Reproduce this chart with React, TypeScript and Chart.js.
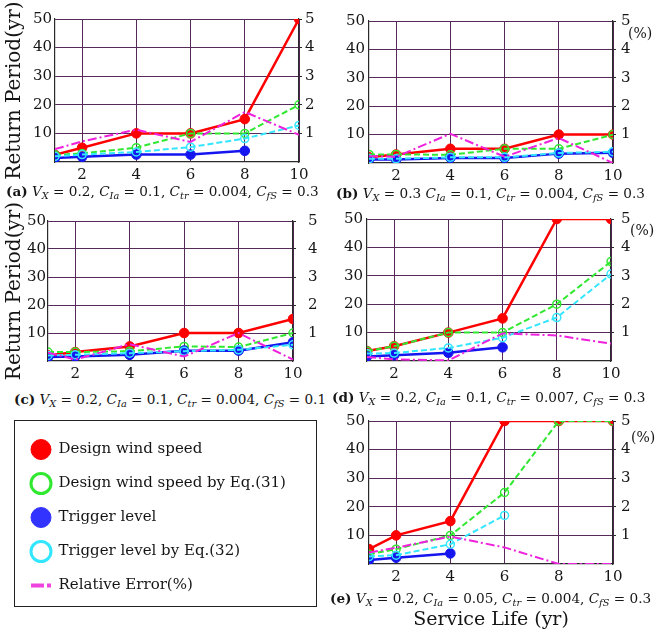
import React, { useEffect, useRef } from 'react';
import { Chart, registerables } from 'chart.js';

Chart.register(...registerables);

const SERIF = '"DejaVu Serif", serif';

// ---------- data ----------
const serviceLife = [1, 2, 4, 6, 8, 10];
const xTickValues = [2, 4, 6, 8, 10];
const periodTickValues = [10, 20, 30, 40, 50];
const errorTickValues = [1, 2, 3, 4, 5];

const seriesLabels = [
  'Design wind speed',
  'Design wind speed by Eq.(31)',
  'Trigger level',
  'Trigger level by Eq.(32)',
  'Relative Error(%)',
];

// (a)
const aDesign = [2.5, 5, 10, 10, 15, 50];
const aDesignEq = [2.5, 3, 5, 10, 10, 20];
const aTrigger = [1.4, 1.8, 2.6, 2.6, 3.9, null];
const aTriggerEq = [2, 2.6, 3.5, 5.2, 8.2, 12.8];
const aError = [0.45, 0.72, 1.13, 0.7, 1.75, 0.95];

// (b)
const bDesign = [2, 3, 5, 5, 10, 10];
const bDesignEq = [3, 3, 2.9, 5, 5, 10];
const bTrigger = [1.2, 1.2, 1.8, 1.8, 3.3, 3.6];
const bTriggerEq = [1.5, 1.5, 2, 2, 3.5, 4];
const bError = [0.24, 0.22, 1.03, 0.22, 0.88, 0];

// (c)
const cDesign = [2, 3.2, 5.2, 10, 10, 15];
const cDesignEq = [3.2, 3.2, 3.5, 5.2, 5, 10];
const cTrigger = [1.4, 1.6, 2.2, 3.7, 3.7, 6.7];
const cTriggerEq = [2, 2.2, 2.8, 3.5, 4, 5.8];
const cError = [0.3, 0.05, 0.6, 0.16, 1.0, 0.05];

// (d)
const dDesign = [3.5, 5.2, 10, 15, 50, 50];
const dDesignEq = [3.5, 5.2, 10, 10, 20, 35];
const dTrigger = [1.6, 2, 2.9, 4.8, null, null];
const dTriggerEq = [2.6, 2.8, 4.6, 8.2, 15.3, 30.6];
const dError = [0.14, 0.06, 0.02, 0.97, 0.9, 0.61];

// (e)
const eDesign = [5.2, 10, 15, 50, 50, 50];
const eDesignEq = [3.4, 5.2, 10, 25, 50, 50];
const eTrigger = [1.4, 2.2, 3.7, null, null, null];
const eTriggerEq = [2.6, 3.1, 6.9, 17, null, null];
const eError = [0.4, 0.57, 0.96, 0.58, 0, 0];

const captionLetters = ['(a)', '(b)', '(c)', '(d)', '(e)'];
const captionVx = ['0.2', '0.3', '0.2', '0.2', '0.2'];
const captionCia = ['0.1', '0.1', '0.1', '0.1', '0.05'];
const captionCtr = ['0.004', '0.004', '0.004', '0.007', '0.004'];
const captionCfs = ['0.3', '0.3', '0.1', '0.3', '0.3'];
const captionComma = [true, false, true, true, true];

// ---------- styles ----------
const RED = '#ff0000';
const GREEN = '#2fe82f';
const BLUE = '#1515f0';
const CYAN = '#33e6ff';
const MAGENTA = '#ee22dd';
const GRID = '#55295a';
const BORDER = '#2a2a2a';
const TEXT = '#151515';

type Layout = {
  cx: number; cy: number; cw: number; ch: number;
  plotBottom: number;
  leftW: number; rightW: number; padTop: number;
  leftPad: number; rightPad: number; yTitle: boolean;
};

const layouts: Layout[] = [
  { cx: 0, cy: 0, cw: 330, ch: 186, plotBottom: 162, leftW: 55, rightW: 31, padTop: 19, leftPad: 3, rightPad: 3, yTitle: true },
  { cx: 330, cy: 0, cw: 330, ch: 186, plotBottom: 163, leftW: 39, rightW: 47, padTop: 21, leftPad: 4, rightPad: 5, yTitle: false },
  { cx: 0, cy: 200, cw: 330, ch: 186, plotBottom: 361, leftW: 48, rightW: 37, padTop: 18, leftPad: 2, rightPad: 12, yTitle: true },
  { cx: 330, cy: 200, cw: 330, ch: 186, plotBottom: 361, leftW: 37, rightW: 49, padTop: 19, leftPad: 4, rightPad: 7, yTitle: false },
  { cx: 330, cy: 405, cw: 330, ch: 185, plotBottom: 564, leftW: 39, rightW: 47, padTop: 16, leftPad: 4, rightPad: 5, yTitle: false },
];

const captionPos = [
  { left: 6, top: 182 },
  { left: 336, top: 184 },
  { left: 14, top: 390 },
  { left: 332, top: 388 },
  { left: 330, top: 589 },
];

const percentPos = [null, { left: 628, top: 25 }, null, { left: 630, top: 222 }, { left: 631, top: 429 }];

const panelSeries = [
  [aDesign, aDesignEq, aTrigger, aTriggerEq, aError],
  [bDesign, bDesignEq, bTrigger, bTriggerEq, bError],
  [cDesign, cDesignEq, cTrigger, cTriggerEq, cError],
  [dDesign, dDesignEq, dTrigger, dTriggerEq, dError],
  [eDesign, eDesignEq, eTrigger, eTriggerEq, eError],
];

function buildConfig(series: (number | null)[][], L: Layout): any {
  const [design, designEq, trigger, triggerEq, error] = series;
  const pts = (vals: (number | null)[]) => serviceLife.map((x, i) => ({ x, y: vals[i] }));
  const tickFont = { family: SERIF, size: 15 };
  const xAxisHeight = L.cy + L.ch - L.plotBottom;
  return {
    type: 'line',
    data: {
      datasets: [
        {
          label: seriesLabels[0], data: pts(design), yAxisID: 'y', order: 5,
          borderColor: RED, backgroundColor: RED, pointBackgroundColor: RED, pointBorderColor: RED,
          borderWidth: 2.5, pointRadius: 4.8, pointBorderWidth: 1,
        },
        {
          label: seriesLabels[1], data: pts(designEq), yAxisID: 'y', order: 4,
          borderColor: GREEN, backgroundColor: 'rgba(0,0,0,0)', pointBackgroundColor: 'rgba(0,0,0,0)', pointBorderColor: GREEN,
          borderDash: [6, 3], borderWidth: 2, pointRadius: 4, pointBorderWidth: 1.5,
        },
        {
          label: seriesLabels[2], data: pts(trigger), yAxisID: 'y', order: 3,
          borderColor: BLUE, backgroundColor: BLUE, pointBackgroundColor: BLUE, pointBorderColor: BLUE,
          borderWidth: 2.5, pointRadius: 4.8, pointBorderWidth: 1,
        },
        {
          label: seriesLabels[3], data: pts(triggerEq), yAxisID: 'y', order: 2,
          borderColor: CYAN, backgroundColor: 'rgba(0,0,0,0)', pointBackgroundColor: 'rgba(0,0,0,0)', pointBorderColor: CYAN,
          borderDash: [6, 3], borderWidth: 2, pointRadius: 4, pointBorderWidth: 1.5,
        },
        {
          label: seriesLabels[4], data: pts(error), yAxisID: 'y2', order: 1,
          borderColor: MAGENTA, backgroundColor: MAGENTA,
          borderDash: [9, 3, 2, 3], borderWidth: 2, pointRadius: 0,
        },
      ],
    },
    options: {
      animation: false,
      responsive: false,
      devicePixelRatio: 1,
      events: [],
      layout: { autoPadding: false, padding: { top: L.padTop, left: 0, right: 0, bottom: 0 } },
      plugins: { legend: { display: false }, tooltip: { enabled: false }, title: { display: false } },
      scales: {
        x: {
          type: 'linear', min: 1, max: 10,
          afterBuildTicks: (s: any) => { s.ticks = xTickValues.map((v) => ({ value: v })); },
          afterFit: (s: any) => { s.height = xAxisHeight; },
          grid: { color: GRID, lineWidth: 1, drawTicks: false },
          border: { color: BORDER, width: 1.2 },
          ticks: { font: tickFont, color: TEXT, padding: 4, maxRotation: 0, autoSkip: false },
        },
        y: {
          type: 'linear', position: 'left', min: 0, max: 50,
          afterBuildTicks: (s: any) => { s.ticks = periodTickValues.map((v) => ({ value: v })); },
          afterFit: (s: any) => { s.width = L.leftW; },
          grid: { color: GRID, lineWidth: 1, drawTicks: false },
          border: { color: BORDER, width: 1.2 },
          ticks: { font: tickFont, color: TEXT, padding: L.leftPad },
          title: {
            display: L.yTitle, text: 'Return Period(yr)', color: TEXT,
            font: { family: SERIF, size: 20 }, padding: { top: 3, bottom: 0 },
          },
        },
        y2: {
          type: 'linear', position: 'right', min: 0, max: 5,
          afterBuildTicks: (s: any) => { s.ticks = errorTickValues.map((v) => ({ value: v })); },
          afterFit: (s: any) => { s.width = L.rightW; },
          grid: { display: true, drawOnChartArea: false, drawTicks: true, tickLength: 3, color: BORDER },
          border: { color: BORDER, width: 1.2 },
          ticks: { font: tickFont, color: TEXT, padding: L.rightPad },
        },
      },
    },
  };
}

function Panel({ idx }: { idx: number }) {
  const ref = useRef<HTMLCanvasElement | null>(null);
  const L = layouts[idx];
  useEffect(() => {
    if (!ref.current) return;
    const chart = new Chart(ref.current, buildConfig(panelSeries[idx] as any, L));
    return () => chart.destroy();
  }, [idx]);
  return (
    <canvas
      ref={ref}
      width={L.cw}
      height={L.ch}
      style={{ position: 'absolute', left: L.cx, top: L.cy, width: L.cw, height: L.ch }}
    />
  );
}

const subStyle: React.CSSProperties = { fontSize: '72%', verticalAlign: '-0.28em', lineHeight: 0, fontStyle: 'italic' };

function Caption({ idx }: { idx: number }) {
  const p = captionPos[idx];
  return (
    <div
      style={{
        position: 'absolute', left: p.left, top: p.top, whiteSpace: 'nowrap',
        fontFamily: SERIF, fontSize: 13.6, lineHeight: '18px', color: TEXT,
      }}
    >
      <b>{captionLetters[idx]}</b>{' '}
      <i>V</i><span style={subStyle}>X</span> = {captionVx[idx]}{captionComma[idx] ? ',' : ''}{' '}
      <i>C</i><span style={subStyle}>Ia</span> = {captionCia[idx]},{' '}
      <i>C</i><span style={subStyle}>tr</span> = {captionCtr[idx]},{' '}
      <i>C</i><span style={subStyle}>fS</span> = {captionCfs[idx]}
    </div>
  );
}

const legendStyles = [
  { fill: RED, stroke: RED, width: 1, style: 'circle', dash: [] as number[] },
  { fill: '#ffffff', stroke: GREEN, width: 3, style: 'circle', dash: [] as number[] },
  { fill: '#3333ff', stroke: '#3333ff', width: 1, style: 'circle', dash: [] as number[] },
  { fill: '#ffffff', stroke: CYAN, width: 3, style: 'circle', dash: [] as number[] },
  { fill: '#ee44dd', stroke: '#ee44dd', width: 4, style: 'line', dash: [13, 3] },
];

function LegendBox() {
  const ref = useRef<HTMLCanvasElement | null>(null);
  useEffect(() => {
    if (!ref.current) return;
    const chart = new Chart(ref.current, {
      type: 'line',
      data: {
        datasets: seriesLabels.map((label) => ({ label, data: [] as number[] })),
      },
      options: {
        animation: false,
        responsive: false,
        devicePixelRatio: 1,
        events: [],
        layout: { autoPadding: false, padding: { top: 3, left: 0, right: 0, bottom: 0 } },
        scales: { x: { display: false }, y: { display: false } },
        plugins: {
          tooltip: { enabled: false },
          legend: {
            position: 'left',
            align: 'start',
            maxWidth: 300,
            labels: {
              usePointStyle: true,
              pointStyleWidth: 20,
              boxHeight: 14.14,
              padding: 19,
              color: TEXT,
              font: { family: SERIF, size: 15 },
              generateLabels: (c: any) =>
                c.data.datasets.map((ds: any, i: number) => ({
                  text: ds.label,
                  fillStyle: legendStyles[i].fill,
                  strokeStyle: legendStyles[i].stroke,
                  lineWidth: legendStyles[i].width,
                  pointStyle: legendStyles[i].style,
                  lineDash: legendStyles[i].dash,
                  fontColor: TEXT,
                  hidden: false,
                  datasetIndex: i,
                })),
            },
          },
        },
      } as any,
    });
    return () => chart.destroy();
  }, []);
  return (
    <>
      <div
        style={{
          position: 'absolute', left: 14, top: 420, width: 303, height: 187,
          border: '1px solid #222', boxSizing: 'border-box',
        }}
      />
      <canvas
        ref={ref}
        width={305}
        height={210}
        style={{ position: 'absolute', left: 12, top: 420, width: 305, height: 210 }}
      />
    </>
  );
}

export default function App() {
  return (
    <div
      style={{
        position: 'absolute', left: 0, top: 0, width: 660, height: 635,
        background: '#ffffff', overflow: 'hidden', fontFamily: SERIF,
      }}
    >
      {layouts.map((_, i) => <Panel key={i} idx={i} />)}
      {captionLetters.map((_, i) => <Caption key={i} idx={i} />)}
      {percentPos.map((p, i) =>
        p ? (
          <div key={i} style={{ position: 'absolute', left: p.left, top: p.top, fontFamily: SERIF, fontSize: 14, color: TEXT, whiteSpace: 'nowrap' }}>
            (%)
          </div>
        ) : null
      )}
      <LegendBox />
      <div
        style={{
          position: 'absolute', left: 330, width: 322, top: 607, textAlign: 'center',
          fontFamily: SERIF, fontSize: 19, color: TEXT, whiteSpace: 'nowrap',
        }}
      >
        Service Life (yr)
      </div>
    </div>
  );
}
